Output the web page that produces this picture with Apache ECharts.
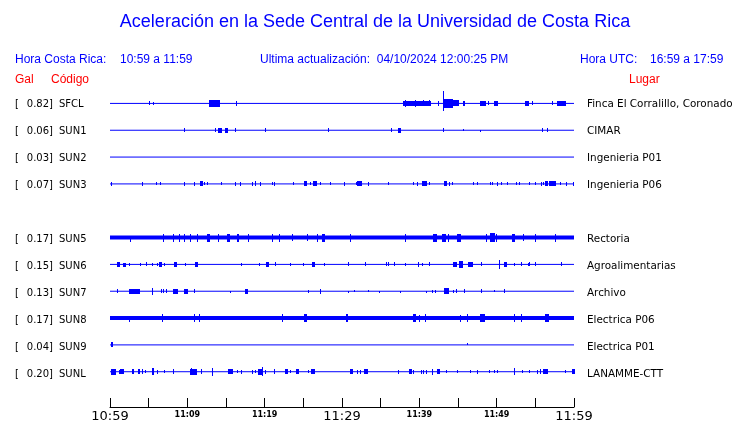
<!DOCTYPE html>
<html>
<head>
<meta charset="utf-8">
<script src="https://cdn.jsdelivr.net/npm/echarts@6/dist/echarts.min.js"></script>
<style>html,body{margin:0;padding:0;background:#fff}#c{width:740px;height:423px}</style>
</head>
<body>
<div id="c"></div>
<script>
// ---- data ----
var titleText = 'Aceleración en la Sede Central de la Universidad de Costa Rica';
var stationCodes = ['SFCL', 'SUN1', 'SUN2', 'SUN3', 'SUN5', 'SUN6', 'SUN7', 'SUN8', 'SUN9', 'SUNL'];
var stationRows  = [0, 1, 2, 3, 5, 6, 7, 8, 9, 10];
var stationGal   = ['0.82', '0.06', '0.03', '0.07', '0.17', '0.15', '0.13', '0.17', '0.04', '0.20'];
var stationPlace = ['Finca El Corralillo, Coronado', 'CIMAR', 'Ingenieria P01', 'Ingenieria P06', 'Rectoria',
                    'Agroalimentarias', 'Archivo', 'Electrica P06', 'Electrica P01', 'LANAMME-CTT'];
var stationNoisy = [false, false, false, false, true, false, false, true, false, false];
// time axis: minutes after 10:59 (0..60)
var tickLabels = ['10:59', '', '11:09', '', '11:19', '', '11:29', '', '11:39', '', '11:49', '', '11:59'];
var tickBig    = [true, false, false, false, false, false, true, false, false, false, false, false, true];

// bursts per station: [startMin, endMin, amplitudeUp, amplitudeDown]
var burstsSFCL = [[5.1,5.1,1.5,1.5],[5.6,5.6,1,1],[12.8,14.1,3,3],[16.3,16.3,2,2],[37.9,41.4,2,2],[38.1,38.1,3,3],
  [39.4,39.4,3,3],[40.5,40.5,2.5,2.5],[41.2,41.2,2.5,2.5],[42.4,42.4,2,2],[43.1,43.1,12,7],[43.1,44.2,4,4],
  [44.2,45.0,2.5,2.5],[45.6,45.6,2,2],[45.8,45.8,2,2],[47.8,48.5,2,2],[48.9,48.9,1.5,1.5],[49.7,50.0,2,2],
  [53.7,54.1,2,2],[54.6,54.6,1.5,1.5],[57.2,57.2,1.5,1.5],[57.8,58.8,2,2]];
var burstsSUN1 = [[9.6,9.6,1.5,1.5],[13.6,13.6,1.5,1.5],[14.0,14.4,2,2],[14.9,15.1,2,2],[16.2,16.2,1.5,1.5],
  [20.0,20.0,1.5,1.5],[28.2,28.2,1.5,1.5],[36.3,36.3,1.5,1.5],[37.2,37.5,2,2],[43.0,43.0,1.5,1.5],
  [45.6,45.6,1,0],[47.9,47.9,0,1],[55.9,55.9,1.5,1.5],[56.5,56.5,1.5,1.5]];
var burstsSUN2 = [];
var burstsSUN3 = [[0.1,0.1,1.5,1.5],[4.1,4.1,1.5,1.5],[6.0,6.0,1,1],[6.5,6.5,1,1],[9.6,9.6,1.5,1.5],[10.9,10.9,1.5,1.5],
  [11.6,11.9,2,2],[12.2,12.2,1,1],[12.5,12.5,1,1],[14.3,14.3,1,1],[16.2,16.2,1.5,1.5],[16.8,16.8,1.5,1.5],
  [18.3,18.3,1.5,1.5],[18.7,18.8,2,2],[19.4,19.4,1.5,1.5],[20.9,20.9,1,1],[21.2,21.2,1.5,1.5],[23.7,23.7,1,1],
  [25.1,25.3,2,2],[25.8,25.8,1,1],[26.2,26.6,2,2],[27.2,27.2,1,1],[28.4,28.4,1,1],[30.2,30.2,1.5,1.5],
  [31.8,31.8,1,1],[31.9,32.5,2,2],[33.3,33.3,1.5,1.5],[35.9,35.9,1,1],[39.2,39.2,1,1],[39.7,39.7,1.5,1.5],
  [40.3,40.8,2,2],[41.2,41.2,1,1],[43.2,43.4,2,2],[43.8,43.8,1.5,1.5],[44.2,44.2,1,1],[46.9,46.9,1,1],
  [47.4,47.4,1,1],[49.1,49.1,1,1],[49.4,49.4,1,1],[50.0,50.0,1.5,1.5],[50.6,50.6,1,1],[51.4,51.4,1,1],
  [52.5,52.5,1,1],[52.9,52.9,1,1],[54.2,54.2,1,1],[55.0,55.0,1,1],[55.7,55.7,1.5,1.5],[56.0,56.0,1,1],
  [56.2,56.5,2,2],[56.8,57.5,2,2],[58.2,58.2,1,1],[59.0,59.0,1.5,1.5],[59.9,59.9,1.5,1.5]];
var burstsSUN5 = [[2.6,2.6,0,3.5],[6.8,6.8,3.5,3.5],[8.1,8.1,3.5,3.5],[8.9,8.9,3.5,3.5],[9.6,9.6,3.5,3.5],
  [10.4,10.4,3.5,3.5],[11.3,11.3,3,3.5],[12.5,12.8,3.5,3.5],[14.0,14.0,3.5,3.5],[15.1,15.4,3.5,3.5],
  [16.4,16.6,3.5,3.5],[17.8,17.8,3.5,3.5],[20.9,20.9,3.5,3.5],[21.9,21.9,3,3.5],[23.5,23.5,3.5,3],
  [25.5,25.5,3.5,3],[26.8,26.8,3,3.5],[27.4,27.7,3.5,3.5],[31.0,31.0,3,3.5],[38.1,38.1,3,3.5],
  [41.8,42.2,3.5,3.5],[42.9,43.3,3.5,3.5],[43.7,43.7,3.5,3.5],[44.9,45.2,3.5,3.5],[48.6,48.6,3.5,3.5],
  [49.1,49.7,4,4],[49.9,49.9,3.5,3.5],[52.0,52.3,3.5,3.5],[53.4,53.4,3.5,3],[54.9,54.9,3,3.5],[57.5,57.5,3.5,3.5]];
var burstsSUN6 = [[0.9,1.2,2,2],[1.7,1.9,1,2],[2.5,2.5,1,1],[3.9,3.9,1,1],[4.6,4.6,1.5,1.5],[5.4,5.4,1,1],
  [6.1,6.1,1,1],[6.3,6.6,2,2],[7.0,7.0,1,1],[8.3,8.5,2,2],[9.7,9.7,1,1],[11.0,11.2,2,2],[16.9,16.9,1,1],
  [19.3,19.3,1,1],[20.2,20.4,2,2],[21.4,21.4,1.5,1.5],[23.3,23.3,1,1],[25.0,25.0,1,1],[26.1,26.4,2,2],
  [27.7,27.7,1,1],[30.8,30.8,1.5,1.5],[33.0,33.0,1.5,1.5],[35.7,35.7,1.5,1.5],[36.0,36.0,1.5,1.5],
  [36.7,36.7,1.5,1.5],[38.1,38.1,1,1],[39.8,39.8,2,2],[40.4,40.4,1,1],[41.2,41.2,1.5,1.5],[44.3,44.7,2,2],
  [45.1,45.5,3,3],[46.3,46.8,2,2],[48.0,48.0,1.5,1.5],[50.3,50.3,4,4],[50.9,51.2,2,2],[52.2,52.2,1,1],
  [53.2,53.2,1.5,1.5],[54.0,54.0,1,1],[54.2,54.2,1.5,1.5],[55.0,55.0,1.5,1.5],[58.3,58.3,1.5,1.5]];
var burstsSUN7 = [[0.9,0.9,1.5,1.5],[2.4,2.7,2,2],[2.9,3.7,2,2],[5.4,5.4,3,3],[6.6,6.6,1.5,1.5],[6.8,6.8,1.5,1.5],
  [7.3,7.3,1.5,1.5],[8.2,8.6,2,2],[9.6,10.0,2,2],[10.8,10.8,1.5,1.5],[15.5,15.5,0,1],[17.5,17.7,2,2],
  [25.6,25.6,1,1],[27.2,27.2,2,2],[30.8,30.8,0,1],[31.6,31.6,1,0],[33.4,33.4,1,0],[34.8,34.8,0,1],
  [37.5,37.5,0,1],[40.9,40.9,0,1],[41.7,41.7,1,1],[42.0,42.0,1,1],[43.2,43.7,2.5,2.5],[44.3,44.3,1,1],
  [44.7,44.7,1.5,1.5],[45.8,45.8,1.5,1.5],[48.0,48.0,1.5,1.5],[49.7,49.7,1,0],[50.9,50.9,1.5,1.5]];
var burstsSUN8 = [[2.4,2.4,0,3.5],[6.7,6.7,3.5,3],[10.9,10.9,3.5,3.5],[11.5,11.5,3.5,3.5],[22.3,22.3,3.5,3.5],
  [25.1,25.4,3.5,3.5],[30.5,30.7,3.5,3.5],[39.2,39.5,3.5,3.5],[39.9,39.9,3,3],[40.7,40.7,3.5,3],
  [45.2,45.2,3,3.5],[46.1,46.1,3.5,3.5],[47.9,48.3,3.5,3.5],[52.3,52.3,3.5,3.5],[53.2,53.2,3.5,3],[56.2,56.6,3.5,3]];
var burstsSUN9 = [[0.1,0.3,2,2],[46.1,46.1,1,0]];
var burstsSUNL = [[0.1,0.6,2.5,2.5],[1.1,1.1,1.5,1.5],[1.3,1.7,2,2],[2.8,3.0,2,2],[3.6,3.8,2,2],[4.1,4.1,2,2],
  [4.5,4.5,1,1],[5.4,5.6,3,3],[6.1,6.1,1.5,1.5],[7.0,7.0,1,1],[8.2,8.2,2,2],[10.3,11.1,2.5,2.5],[10.5,10.5,3,3],
  [11.8,11.8,2,2],[13.2,13.2,3.5,3.5],[15.2,15.8,2,2],[16.4,16.4,1,1],[17.0,17.0,1.5,1.5],[18.3,18.3,1.5,1.5],
  [18.7,18.7,1,1],[19.1,19.6,2.5,2.5],[19.7,19.7,4,4],[20.1,20.1,1.5,1.5],[21.2,21.2,2,2],[22.6,22.9,2,2],
  [23.3,23.3,1,1],[24.0,24.3,2,2],[25.6,25.6,1,1],[26.0,26.4,2,2],[31.0,31.3,2,2],[32.0,32.0,1.5,1.5],
  [32.3,32.3,1.5,1.5],[32.8,33.2,2,2],[37.2,37.2,1.5,1.5],[38.6,38.9,2,2],[39.2,39.2,1.5,1.5],
  [40.2,40.2,1.5,1.5],[40.5,40.5,1.5,1.5],[40.8,40.8,1.5,1.5],[41.7,41.7,2.5,2.5],[42.3,42.6,2,2],
  [43.5,43.5,1,1],[44.9,44.9,1,1],[46.5,46.5,1,1],[47.5,47.5,1.5,1.5],[49.0,49.0,1,1],[49.7,49.7,1,1],
  [50.0,50.0,1,1],[52.3,52.3,3,3],[53.3,53.3,1,1],[54.2,54.2,1,1],[55.2,55.2,1.5,1.5],[55.6,55.6,2,2],
  [56.0,56.5,2,2],[58.9,58.9,1,1],[59.7,60.0,2,2]];
var stationBursts = [burstsSFCL, burstsSUN1, burstsSUN2, burstsSUN3, burstsSUN5, burstsSUN6,
                     burstsSUN7, burstsSUN8, burstsSUN9, burstsSUNL];

// ---- chart ----
var BLUE = '#0000ff', RED = '#ff0000';
var ROW = 27;
var chart = echarts.init(document.getElementById('c'), null, {renderer: 'canvas'});

var series = [];
stationCodes.forEach(function (code, i) {
  var base = -stationRows[i] * ROW;
  series.push({
    type: 'line', name: code + '_base', silent: true, symbol: 'none', animation: false,
    data: [[0, base], [60, base]],
    lineStyle: {color: BLUE, width: stationNoisy[i] ? 4 : 1}
  });
  series.push({
    type: 'custom', name: code, silent: true, animation: false, z: 3,
    data: stationBursts[i],
    renderItem: (function (b) {
      return function (params, api) {
        var t0 = api.value(0), t1 = api.value(1), up = api.value(2), dn = api.value(3);
        var p0 = api.coord([t0, b + up]);
        var p1 = api.coord([t1, b - dn]);
        var x0 = Math.round(p0[0]), x1 = Math.round(p1[0]);
        var y0 = Math.floor(p0[1]), y1 = Math.ceil(p1[1]);
        return {type: 'rect', shape: {x: x0, y: y0, width: Math.max(1, x1 - x0 + 1), height: Math.max(1, y1 - y0)},
                style: {fill: BLUE}};
      };
    })(base)
  });
});

var graphics = [];
function txt(text, x, y, font, fill, align) {
  graphics.push({type: 'text', silent: true, style: {text: text, x: x, y: y, font: font, fill: fill,
    textAlign: align || 'left', textVerticalAlign: 'middle'}});
}
var HF = '12px "Liberation Sans", Arial, sans-serif';
txt(titleText, 375, 22, '18px "Liberation Sans", Arial, sans-serif', BLUE, 'center');
txt('Hora Costa Rica:', 15, 60, HF, BLUE);
txt('10:59 a 11:59', 120, 60, HF, BLUE);
txt('Ultima actualización:  04/10/2024 12:00:25 PM', 260, 60, HF, BLUE);
txt('Hora UTC:', 580, 60, HF, BLUE);
txt('16:59 a 17:59', 650, 60, HF, BLUE);
txt('Gal', 15, 80, HF, RED);
txt('Código', 51, 80, HF, RED);
txt('Lugar', 629, 80, HF, RED);
var SF = '10px "DejaVu Sans", sans-serif';
var SFR = '10.4px "DejaVu Sans", sans-serif';
stationCodes.forEach(function (code, i) {
  var y = 104 + stationRows[i] * ROW;
  txt('[', 15, y, SF, '#000');
  txt(stationGal[i] + ']', 53, y, SF, '#000', 'right');
  txt(code, 59, y, SF, '#000');
  txt(stationPlace[i], 587, y, SFR, '#000');
});

chart.setOption({
  animation: false,
  backgroundColor: '#fff',
  grid: {left: 110, right: 166, top: 90, height: 319},
  xAxis: {
    type: 'value', min: 0, max: 60, interval: 5,
    axisLine: {onZero: false, lineStyle: {color: '#000', width: 1}},
    axisTick: {inside: true, length: 9, lineStyle: {color: '#000'}},
    splitLine: {show: false},
    axisLabel: {
      margin: 2, color: '#000',
      formatter: function (v) {
        var k = Math.round(v / 5);
        var s = tickLabels[k] || '';
        if (!s) return '';
        return tickBig[k] ? '{b|' + s + '}' : '{s|' + s + '}';
      },
      rich: {
        b: {fontSize: 13, fontFamily: 'DejaVu Sans', color: '#000', lineHeight: 15},
        s: {fontSize: 8, fontWeight: 'bold', fontFamily: 'DejaVu Sans', color: '#000', lineHeight: 12}
      }
    }
  },
  yAxis: {type: 'value', min: 13.5 - 319, max: 13.5, show: false},
  series: series,
  graphic: graphics
});
</script>
</body>
</html>
